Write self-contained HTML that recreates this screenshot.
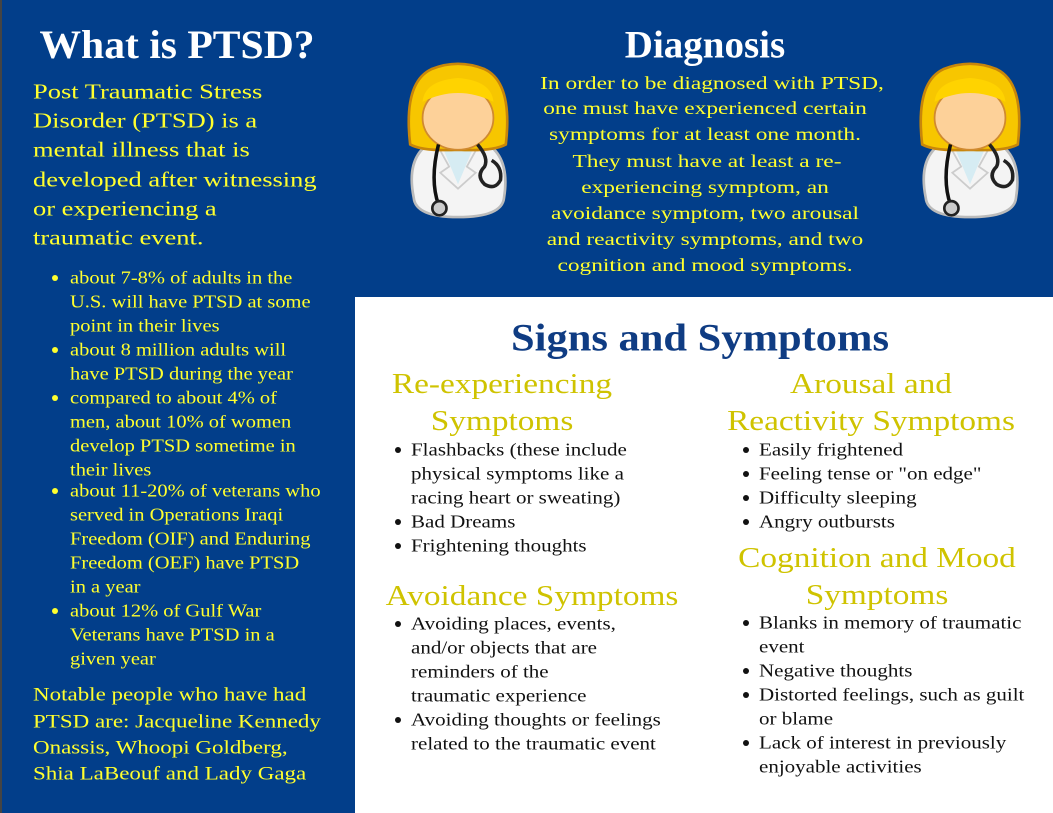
<!DOCTYPE html>
<html><head><meta charset="utf-8"><style>
*{margin:0;padding:0}
body{width:1053px;height:813px;position:relative;overflow:hidden;background:#fff;font-family:"Liberation Serif",serif}
.b{position:absolute;background:#023e8a}
.t{position:absolute;white-space:nowrap;line-height:1;transform-origin:left center;transform:translateY(-50%) scaleX(var(--s,1.2))}
.c{transform-origin:center center;transform:translate(-50%,-50%) scaleX(var(--s,1.2))}
.y{color:#ffff2e}
.k{color:#111}
.h{color:#cfc300;font-size:28px;--s:1.19}
.dot{position:absolute;width:6px;height:6px;border-radius:50%;transform:translate(-50%,-50%)}
</style></head><body>
<div class="b" style="left:0;top:0;width:1053px;height:297px"></div>
<div class="b" style="left:0;top:0;width:355px;height:813px"></div>
<div style="position:absolute;left:0;top:0;width:2px;height:813px;background:#444"></div>

<div class="t c" style="left:177px;top:45px;color:#fff;font-size:40px;font-weight:bold;--s:1.04">What is PTSD?</div>
<div class="t c" style="left:705px;top:45px;color:#fff;font-size:39px;font-weight:bold;--s:1.0">Diagnosis</div>

<div style="--s:1.26">
<div class="t y" style="left:33px;top:92px;font-size:21px">Post Traumatic Stress</div>
<div class="t y" style="left:33px;top:121px;font-size:21px">Disorder (PTSD) is a</div>
<div class="t y" style="left:33px;top:150px;font-size:21px">mental illness that is</div>
<div class="t y" style="left:33px;top:180px;font-size:21px">developed after witnessing</div>
<div class="t y" style="left:33px;top:209px;font-size:21px">or experiencing a</div>
<div class="t y" style="left:33px;top:238px;font-size:21px">traumatic event.</div>
</div>

<div style="font-size:17.5px;--s:1.17">
<div class="dot" style="left:55px;top:278px;background:#ffff2e"></div>
<div class="t y" style="left:70px;top:278px">about 7-8% of adults in the</div>
<div class="t y" style="left:70px;top:302px">U.S. will have PTSD at some</div>
<div class="t y" style="left:70px;top:326px">point in their lives</div>
<div class="dot" style="left:55px;top:350px;background:#ffff2e"></div>
<div class="t y" style="left:70px;top:350px">about 8 million adults will</div>
<div class="t y" style="left:70px;top:374px">have PTSD during the year</div>
<div class="dot" style="left:55px;top:398px;background:#ffff2e"></div>
<div class="t y" style="left:70px;top:398px">compared to about 4% of</div>
<div class="t y" style="left:70px;top:422px">men, about 10% of women</div>
<div class="t y" style="left:70px;top:446px">develop PTSD sometime in</div>
<div class="t y" style="left:70px;top:470px">their lives</div>
<div class="dot" style="left:55px;top:491px;background:#ffff2e"></div>
<div class="t y" style="left:70px;top:491px">about 11-20% of veterans who</div>
<div class="t y" style="left:70px;top:515px">served in Operations Iraqi</div>
<div class="t y" style="left:70px;top:539px">Freedom (OIF) and Enduring</div>
<div class="t y" style="left:70px;top:563px">Freedom (OEF) have PTSD</div>
<div class="t y" style="left:70px;top:587px">in a year</div>
<div class="dot" style="left:55px;top:611px;background:#ffff2e"></div>
<div class="t y" style="left:70px;top:611px">about 12% of Gulf War</div>
<div class="t y" style="left:70px;top:635px">Veterans have PTSD in a</div>
<div class="t y" style="left:70px;top:659px">given year</div>
</div>

<div style="font-size:19px;--s:1.21">
<div class="t y" style="left:33px;top:695px">Notable people who have had</div>
<div class="t y" style="left:33px;top:722px">PTSD are: Jacqueline Kennedy</div>
<div class="t y" style="left:33px;top:748px">Onassis, Whoopi Goldberg,</div>
<div class="t y" style="left:33px;top:774px">Shia LaBeouf and Lady Gaga</div>
</div>

<div style="font-size:18px;--s:1.3">
<div class="t y c" style="left:712px;top:83px">In order to be diagnosed with PTSD,</div>
<div class="t y c" style="left:705px;top:108px">one must have experienced certain</div>
<div class="t y c" style="left:705px;top:134px">symptoms for at least one month.</div>
<div class="t y c" style="left:707px;top:161px">They must have at least a re-</div>
<div class="t y c" style="left:705px;top:187px">experiencing symptom, an</div>
<div class="t y c" style="left:705px;top:213px">avoidance symptom, two arousal</div>
<div class="t y c" style="left:705px;top:239px">and reactivity symptoms, and two</div>
<div class="t y c" style="left:705px;top:265px">cognition and mood symptoms.</div>
</div>

<svg style="position:absolute;left:396px;top:50px" width="124" height="180" viewBox="0 0 140 190">
<defs>
<g id="doc">
<path d="M20 160 Q10 110 45 95 L95 95 Q130 110 122 160 Q120 182 70 182 Q22 182 20 160Z" fill="#f4f4f4" stroke="#bbb" stroke-width="3"/>
<path d="M52 102 L88 102 L70 145Z" fill="#d6ecf3"/>
<path d="M45 98 L60 125 L50 132 L70 150 L90 132 L80 125 L95 98" fill="none" stroke="#ccc" stroke-width="2"/>
<path d="M16 100 Q8 30 40 15 Q70 3 100 15 Q132 30 124 100 Q110 108 70 106 Q30 108 16 100Z" fill="#f7c600" stroke="#c8860a" stroke-width="3"/>
<ellipse cx="70" cy="70" rx="40" ry="36" fill="#fdd199" stroke="#d08a30" stroke-width="2"/>
<path d="M30 52 Q70 32 110 52 Q108 28 70 25 Q32 28 30 52Z" fill="#ffd300"/>
<path d="M48 100 Q38 140 48 168" fill="none" stroke="#111" stroke-width="4"/>
<circle cx="49" cy="172" r="8" fill="#ccc" stroke="#222" stroke-width="3"/>
<path d="M92 100 Q105 115 100 125 Q90 135 100 145 Q112 152 118 140 Q120 125 108 118" fill="none" stroke="#222" stroke-width="4"/>
</g></defs><use href="#doc"/></svg>
<svg style="position:absolute;left:908px;top:50px" width="124" height="180" viewBox="0 0 140 190"><use href="#doc"/></svg>

<div class="t c" style="left:700px;top:338px;color:#0f3c83;font-size:39px;font-weight:bold;--s:1.09">Signs and Symptoms</div>

<div class="t c h" style="left:502px;top:385px">Re-experiencing</div>
<div class="t c h" style="left:502px;top:422px">Symptoms</div>
<div class="t c h" style="left:871px;top:385px">Arousal and</div>
<div class="t c h" style="left:871px;top:422px">Reactivity Symptoms</div>
<div class="t c h" style="left:532px;top:597px">Avoidance Symptoms</div>
<div class="t c h" style="left:877px;top:559px">Cognition and Mood</div>
<div class="t c h" style="left:877px;top:596px">Symptoms</div>

<div style="font-size:17.5px;--s:1.2">
<div class="dot" style="left:398px;top:450px;background:#111"></div>
<div class="t k" style="left:411px;top:450px">Flashbacks (these include</div>
<div class="t k" style="left:411px;top:474px">physical symptoms like a</div>
<div class="t k" style="left:411px;top:498px">racing heart or sweating)</div>
<div class="dot" style="left:398px;top:522px;background:#111"></div>
<div class="t k" style="left:411px;top:522px">Bad Dreams</div>
<div class="dot" style="left:398px;top:546px;background:#111"></div>
<div class="t k" style="left:411px;top:546px">Frightening thoughts</div>

<div class="dot" style="left:398px;top:624px;background:#111"></div>
<div class="t k" style="left:411px;top:624px">Avoiding places, events,</div>
<div class="t k" style="left:411px;top:648px">and/or objects that are</div>
<div class="t k" style="left:411px;top:672px">reminders of the</div>
<div class="t k" style="left:411px;top:696px">traumatic experience</div>
<div class="dot" style="left:398px;top:720px;background:#111"></div>
<div class="t k" style="left:411px;top:720px">Avoiding thoughts or feelings</div>
<div class="t k" style="left:411px;top:744px">related to the traumatic event</div>

<div class="dot" style="left:746px;top:450px;background:#111"></div>
<div class="t k" style="left:759px;top:450px">Easily frightened</div>
<div class="dot" style="left:746px;top:474px;background:#111"></div>
<div class="t k" style="left:759px;top:474px">Feeling tense or "on edge"</div>
<div class="dot" style="left:746px;top:498px;background:#111"></div>
<div class="t k" style="left:759px;top:498px">Difficulty sleeping</div>
<div class="dot" style="left:746px;top:522px;background:#111"></div>
<div class="t k" style="left:759px;top:522px">Angry outbursts</div>

<div class="dot" style="left:746px;top:623px;background:#111"></div>
<div class="t k" style="left:759px;top:623px">Blanks in memory of traumatic</div>
<div class="t k" style="left:759px;top:647px">event</div>
<div class="dot" style="left:746px;top:671px;background:#111"></div>
<div class="t k" style="left:759px;top:671px">Negative thoughts</div>
<div class="dot" style="left:746px;top:695px;background:#111"></div>
<div class="t k" style="left:759px;top:695px">Distorted feelings, such as guilt</div>
<div class="t k" style="left:759px;top:719px">or blame</div>
<div class="dot" style="left:746px;top:743px;background:#111"></div>
<div class="t k" style="left:759px;top:743px">Lack of interest in previously</div>
<div class="t k" style="left:759px;top:767px">enjoyable activities</div>
</div>
</body></html>
